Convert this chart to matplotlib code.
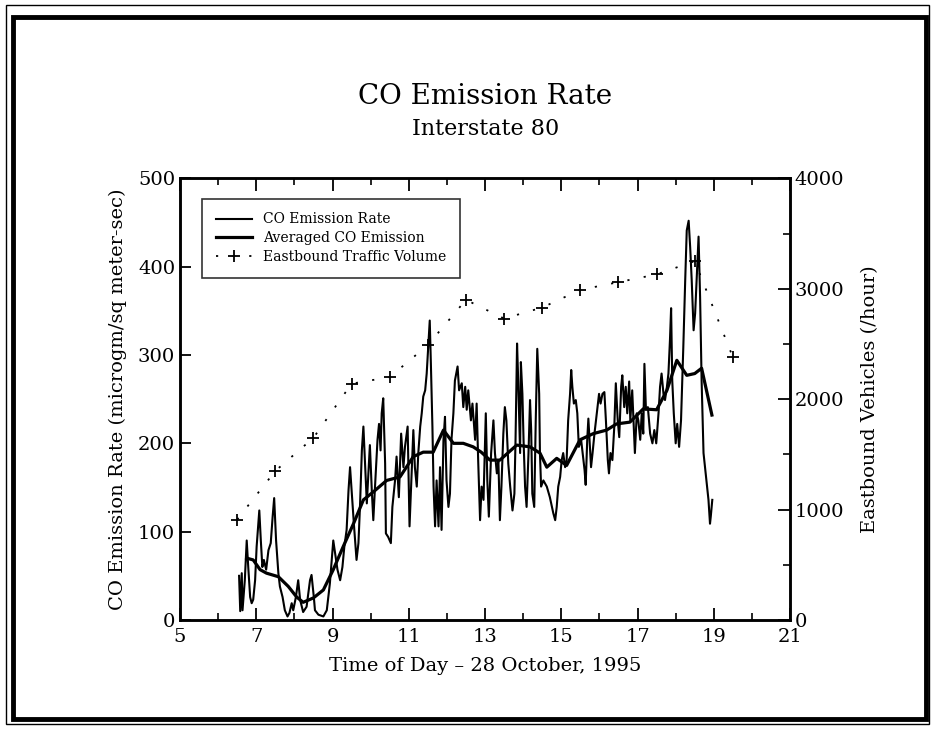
import matplotlib
matplotlib.use('Agg')
import matplotlib.pyplot as plt
from matplotlib.patches import Rectangle
from matplotlib.ticker import MultipleLocator, FixedLocator

plt.rcParams['font.family'] = 'DejaVu Serif'

# raw CO emission rate
co_hours = [6.55, 6.58, 6.62, 6.64, 6.70, 6.75, 6.79, 6.84, 6.88, 6.92, 6.97, 7.01, 7.08, 7.12,
            7.16, 7.20, 7.26, 7.32, 7.38, 7.43, 7.47, 7.52, 7.58, 7.62, 7.69, 7.75, 7.82, 7.87,
            7.93, 7.97, 8.04, 8.10, 8.15, 8.23, 8.32, 8.41, 8.45, 8.51,
            8.54, 8.63, 8.76, 8.85, 8.89, 8.93, 8.98, 9.02, 9.07, 9.13, 9.20, 9.26, 9.31, 9.37,
            9.42, 9.46, 9.50, 9.56, 9.63, 9.68, 9.72, 9.77, 9.81, 9.85, 9.90, 9.94, 9.98, 10.03,
            10.07, 10.11, 10.18, 10.22, 10.26, 10.29, 10.33, 10.38, 10.40, 10.46, 10.53, 10.57,
            10.64, 10.68, 10.74, 10.80, 10.86, 10.90, 10.97, 11.02, 11.08, 11.12, 11.16, 11.21,
            11.25, 11.30, 11.34, 11.38, 11.43, 11.47, 11.51, 11.55, 11.58, 11.62, 11.65, 11.69,
            11.73, 11.78, 11.82, 11.86, 11.91, 11.95, 11.99, 12.04, 12.08, 12.12, 12.17, 12.21,
            12.28, 12.32, 12.39, 12.43, 12.48, 12.52, 12.56, 12.63, 12.67, 12.74,
            12.78, 12.82, 12.87, 12.91, 12.96, 13.02, 13.06, 13.10, 13.16, 13.22, 13.26, 13.31,
            13.35, 13.39, 13.43, 13.48, 13.52, 13.56, 13.61, 13.66, 13.72, 13.77, 13.80, 13.84,
            13.87, 13.92, 13.94, 13.98, 14.01, 14.05, 14.09, 14.14, 14.18, 14.21, 14.24, 14.29,
            14.33, 14.37, 14.42, 14.44, 14.47, 14.53, 14.62, 14.70, 14.79,
            14.84, 14.88, 14.92, 14.97, 15.01, 15.05, 15.10, 15.14, 15.18, 15.23, 15.26, 15.29,
            15.33, 15.38, 15.42, 15.46, 15.52, 15.57, 15.61, 15.64, 15.68, 15.71, 15.75, 15.78,
            15.82, 15.87, 15.91, 15.96, 15.99, 16.03, 16.08, 16.13, 16.17, 16.22, 16.25, 16.29,
            16.34, 16.39, 16.43, 16.48, 16.52, 16.57, 16.60, 16.65, 16.69, 16.73, 16.78, 16.81,
            16.86,
            16.93, 16.98, 17.02, 17.07, 17.11, 17.15, 17.18, 17.22, 17.27, 17.33, 17.39, 17.44,
            17.49, 17.55, 17.59, 17.63, 17.68, 17.72, 17.77, 17.81, 17.85, 17.88, 17.91, 17.95,
            18.00, 18.04, 18.09, 18.14, 18.20, 18.25, 18.29, 18.34, 18.38, 18.42, 18.47, 18.51,
            18.55, 18.60, 18.64, 18.68, 18.73, 18.77, 18.81, 18.86, 18.90, 18.92, 18.96]
co_rate = [50, 10, 53, 11, 45, 90, 60, 26, 19, 23, 45, 83, 124, 90,
           60, 68, 57, 79, 87, 117, 138, 90, 53, 38, 26, 11, 4, 8,
           19, 11, 26, 45, 23, 9, 15, 45, 51, 26,
           11, 6, 4, 11, 26, 41, 68, 90, 75, 57, 45, 60, 83, 102,
           147, 173, 147, 109, 68, 87, 128, 192, 219, 181, 132, 166, 198, 147,
           113, 147, 204, 222, 192, 234, 251, 177, 98, 94, 87, 128,
           158, 185, 139, 211, 173, 196, 219, 106, 173, 215, 173, 151,
           189, 219, 234, 253, 260, 279, 309, 339, 290, 219, 151, 106,
           158, 106, 173, 102, 204, 230, 158, 128, 143, 204, 234, 271,
           287, 260, 268, 241, 264, 238, 260, 226, 245, 204,
           245, 181, 113, 151, 136, 234, 158, 117, 189, 226, 189, 166,
           181, 113, 151, 211, 241, 226, 177, 151, 124, 143, 204, 313,
           271, 189, 292, 256, 204, 151, 128, 189, 249, 215, 143, 128,
           226, 307, 256, 189, 151, 158, 151, 139, 121,
           113, 128, 151, 162, 181, 189, 173, 181, 226, 256, 283, 264,
           245, 249, 234, 196, 204, 185, 170, 153, 204, 228, 196, 173,
           189, 211, 226, 245, 256, 245, 256, 258, 226, 181, 166, 189,
           181, 219, 268, 226, 207, 264, 277, 241, 264, 234, 270, 226,
           260,
           189, 234, 226, 204, 234, 211, 290, 238, 241, 211, 200, 215,
           200, 234, 264, 279, 256, 249, 264, 279, 317, 353, 271, 234,
           200, 222, 196, 226, 309, 385, 441, 452, 422, 385, 328, 347,
           385, 434, 366, 271, 189, 173, 158, 136, 109, 117, 136]

# averaged CO emission
avg_hours = [6.75, 6.92, 7.10, 7.27, 7.58, 7.84, 8.06, 8.23, 8.50, 8.76, 9.02, 9.28, 9.55,
             9.81, 10.07, 10.42, 10.77, 11.12, 11.38, 11.64, 11.91, 12.17, 12.43, 12.69, 12.90,
             13.13, 13.39, 13.83, 14.18, 14.44, 14.62, 14.88, 15.14, 15.49, 15.84, 16.19, 16.45,
             16.80, 17.15, 17.50, 17.77, 18.03, 18.29, 18.50, 18.68, 18.95]
avg_rate = [70, 68, 57, 53, 49, 38, 26, 20, 25, 34, 57, 83, 109,
            136, 145, 158, 162, 185, 190, 190, 215, 200, 200, 196, 190,
            181, 181, 198, 196, 189, 173, 183, 175, 204, 211, 215, 222,
            224, 239, 238, 260, 294, 277, 279, 285, 232]

# eastbound traffic volume (vehicles/hour)
traffic_hours = [6.5, 7.5, 8.5, 9.5, 10.5, 11.5, 12.5, 13.5, 14.5, 15.5, 16.5, 17.5, 18.5, 19.5]
traffic_vol = [910, 1350, 1650, 2140, 2200, 2490, 2900, 2730, 2830, 2990, 3060, 3130, 3250, 2380]

fig = plt.figure(figsize=(9.35, 7.3), dpi=100)
ax = fig.add_axes([0.1925, 0.1507, 0.6525, 0.605])
ax2 = ax.twinx()

l1, = ax.plot(co_hours, co_rate, color='black', lw=1.5)
l2, = ax.plot(avg_hours, avg_rate, color='black', lw=2.3)
l3, = ax2.plot(traffic_hours, traffic_vol, color='black', lw=1.3, ls=(0, (1.2, 8)),
               marker='+', ms=9, mew=1.3)

ax.set_xlim(5, 21)
ax.set_ylim(0, 500)
ax2.set_ylim(0, 4000)
ax.xaxis.set_major_locator(FixedLocator(list(range(5, 22, 2))))
ax.xaxis.set_minor_locator(FixedLocator(list(range(6, 21, 2))))
ax.yaxis.set_major_locator(MultipleLocator(100))
ax2.yaxis.set_major_locator(MultipleLocator(1000))
ax2.yaxis.set_minor_locator(MultipleLocator(500))

ax.tick_params(axis='x', which='both', direction='in', top=True, labelsize=14, pad=6)
ax.tick_params(axis='x', which='major', length=9, width=1.3)
ax.tick_params(axis='x', which='minor', length=5, width=1.2)
ax.tick_params(axis='y', which='major', direction='in', length=8, width=1.3, labelsize=14)
ax2.tick_params(axis='y', which='major', direction='in', length=9, width=1.3, labelsize=14)
ax2.tick_params(axis='y', which='minor', direction='in', length=5, width=1.2)
for a in (ax, ax2):
    for s in a.spines.values():
        s.set_linewidth(1.8)

ax.set_xlabel('Time of Day \u2013 28 October, 1995', fontsize=14, labelpad=8)
ax.set_ylabel('CO Emission Rate (microgm/sq meter-sec)', fontsize=14, labelpad=8)
ax2.set_ylabel('Eastbound Vehicles (/hour)', fontsize=14, labelpad=12)

leg = ax.legend([l1, l2, l3], ['CO Emission Rate', 'Averaged CO Emission', 'Eastbound Traffic Volume'],
                loc='upper left', bbox_to_anchor=(0.025, 0.97), fontsize=10, frameon=True,
                fancybox=False, edgecolor='black', handlelength=2.6, borderpad=1.0,
                labelspacing=0.35)
leg.get_frame().set_linewidth(1.2)

fig.text(0.519, 0.868, 'CO Emission Rate', ha='center', va='center', fontsize=20)
fig.text(0.519, 0.823, 'Interstate 80', ha='center', va='center', fontsize=16)

# page frame
fig.patches.append(Rectangle((0.006, 0.008), 0.988, 0.985, transform=fig.transFigure,
                             fill=False, lw=1.0, edgecolor='black'))
fig.patches.append(Rectangle((0.014, 0.015), 0.976, 0.962, transform=fig.transFigure,
                             fill=False, lw=3.5, edgecolor='black'))

fig.savefig('out.png', dpi=100)
